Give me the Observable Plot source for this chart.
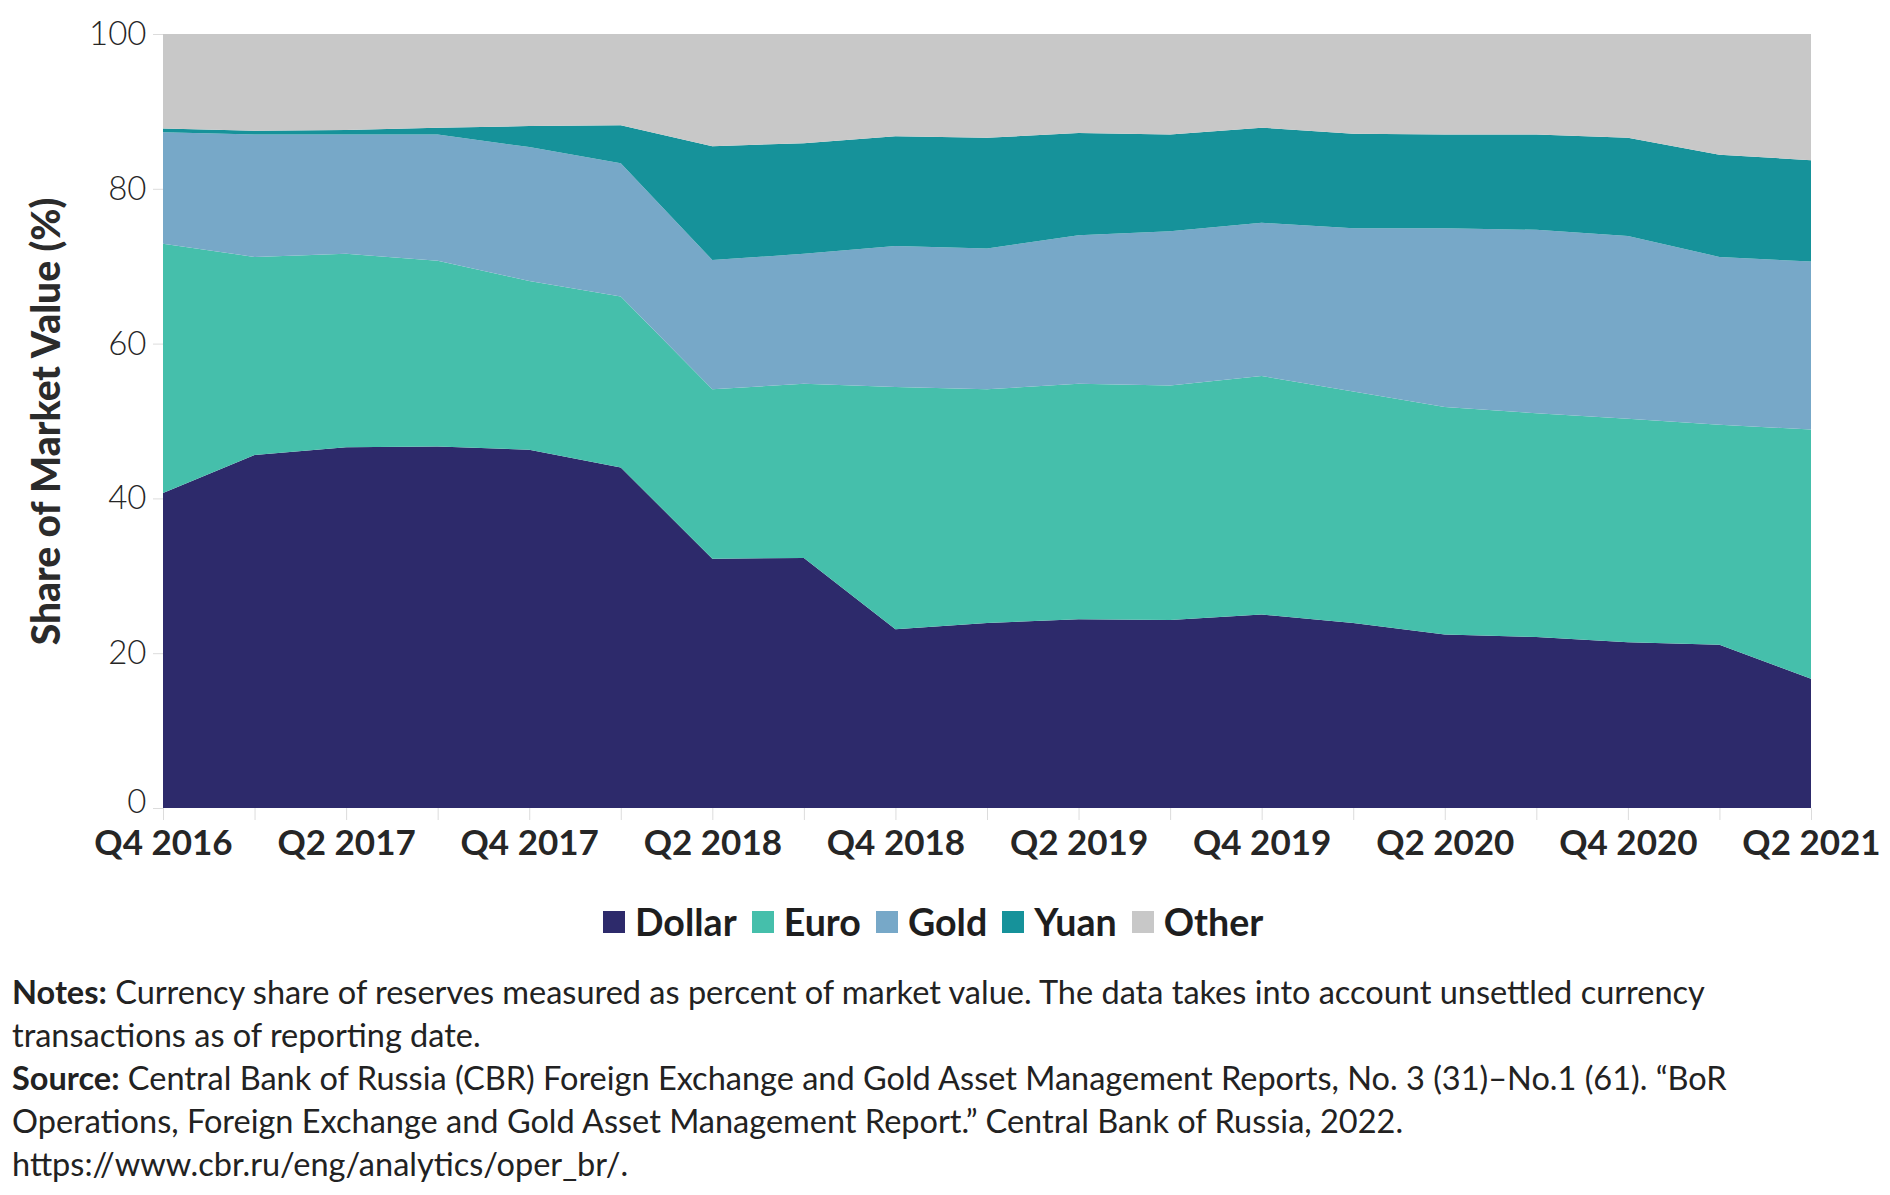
<!DOCTYPE html>
<html>
<head>
<meta charset="utf-8">
<script src="https://cdn.jsdelivr.net/npm/d3@7"></script>
<script src="https://cdn.jsdelivr.net/npm/@observablehq/plot@0.6"></script>
<style>
  html, body { margin: 0; padding: 0; background: #fff; }
  body { width: 1890px; height: 1195px; position: relative; overflow: hidden; font-family: Lato, "Open Sans", sans-serif; color: #222; }
  #chart { position: absolute; left: 0; top: 0; }
  #legend { position: absolute; left: 603px; top: 903px; height: 38px; display: flex; align-items: center; font-weight: bold; font-size: 37.6px; line-height: 38px; color: #1e1e1e; white-space: nowrap; }
  #legend .item { display: flex; align-items: center; margin-right: 15px; }
  #legend .sw { width: 22px; height: 22px; margin-right: 10px; }
  #notes { position: absolute; left: 12px; top: 970px; font-size: 32.5px; line-height: 43px; color: #222; white-space: nowrap; }
  #notes b { font-weight: bold; }
</style>
</head>
<body>
<div id="chart"></div>
<div id="legend"></div>
<div id="notes">
  <div><b>Notes:</b> Currency share of reserves measured as percent of market value. The data takes into account unsettled currency</div>
  <div>transactions as of reporting date.</div>
  <div><b>Source:</b> Central Bank of Russia (CBR) Foreign Exchange and Gold Asset Management Reports, No. 3 (31)–No.1 (61). “BoR</div>
  <div>Operations, Foreign Exchange and Gold Asset Management Report.” Central Bank of Russia, 2022.</div>
  <div>https://www.cbr.ru/eng/analytics/oper_br/.</div>
</div>
<script>
const quarters = ["Q4 2016","Q1 2017","Q2 2017","Q3 2017","Q4 2017","Q1 2018","Q2 2018","Q3 2018","Q4 2018","Q1 2019","Q2 2019","Q3 2019","Q4 2019","Q1 2020","Q2 2020","Q3 2020","Q4 2020","Q1 2021","Q2 2021"];
const dollar = [40.7,45.6,46.6,46.7,46.3,44.0,32.2,32.3,23.1,23.9,24.4,24.3,25.0,23.9,22.4,22.1,21.4,21.1,16.7];
const euro   = [32.2,25.6,25.0,24.0,21.8,22.1,21.9,22.5,31.3,30.2,30.4,30.3,30.8,29.9,29.4,28.9,28.9,28.4,32.2];
const gold   = [14.4,15.8,15.4,16.3,17.3,17.2,16.7,16.8,18.2,18.2,19.2,19.9,19.8,21.1,23.1,23.7,23.6,21.7,21.7];
const yuan   = [0.5,0.5,0.6,0.9,2.7,4.9,14.7,14.3,14.2,14.3,13.2,12.5,12.3,12.2,12.1,12.3,12.7,13.2,13.1];
const other  = [12.2,12.5,12.4,12.1,11.9,11.8,14.5,14.1,13.2,13.4,12.8,13.0,12.1,12.9,13.0,13.0,13.4,15.6,16.3];
const seriesNames = ["Dollar","Euro","Gold","Yuan","Other"];
const seriesColors = ["#2d2a6b","#45bfab","#77a8c8","#16929a","#c8c8c8"];
const yTicks = [0,20,40,60,80,100];

const seriesValues = [dollar, euro, gold, yuan, other];
const rows = [];
seriesNames.forEach((s, k) => {
  quarters.forEach((q, i) => rows.push({series: s, i, quarter: q, value: seriesValues[k][i]}));
});

const chart = Plot.plot({
  width: 1890,
  height: 880,
  marginLeft: 163,
  marginRight: 79,
  marginTop: 34,
  marginBottom: 72,
  style: {fontFamily: "Lato, 'Open Sans', sans-serif", color: "#2b2b2b", background: "#fff"},
  x: {type: "linear", domain: [0, quarters.length - 1]},
  y: {domain: [0, 100]},
  color: {domain: seriesNames, range: seriesColors},
  marks: [
    Plot.areaY(rows, Plot.stackY({x: "i", y: "value", z: "series", fill: "series", order: seriesNames, curve: "linear"})),
    Plot.axisY({ticks: yTicks, tickSize: 10, tickPadding: 7, tickFormat: d => (d === 0 ? "" : d), stroke: "#dcdcdc", fill: "#262626", fontSize: 33, fontWeight: 300, label: null}),
    Plot.axisY({ticks: [0], tickSize: 0, tickPadding: 17, dy: -6, fill: "#262626", fontSize: 33, fontWeight: 300, label: null}),
    Plot.axisX({ticks: d3.range(quarters.length), tickFormat: i => (i % 2 === 0 ? quarters[i] : ""), tickSize: 12, tickPadding: 10, stroke: "#dcdcdc", fill: "#262626", fontSize: 35, fontWeight: "bold", label: null}),
    Plot.text(["Share of Market Value (%)"], {frameAnchor: "left", dx: -116, rotate: -90, textAnchor: "middle", lineAnchor: "middle", fontSize: 39, fontWeight: 900, fill: "#2b2b2b"})
  ]
});
document.getElementById("chart").appendChild(chart);

const legend = document.getElementById("legend");
seriesNames.forEach((s, k) => {
  const item = document.createElement("div");
  item.className = "item";
  const sw = document.createElement("span");
  sw.className = "sw";
  sw.style.background = seriesColors[k];
  const t = document.createElement("span");
  t.textContent = s;
  item.appendChild(sw);
  item.appendChild(t);
  legend.appendChild(item);
});
</script>
</body>
</html>
